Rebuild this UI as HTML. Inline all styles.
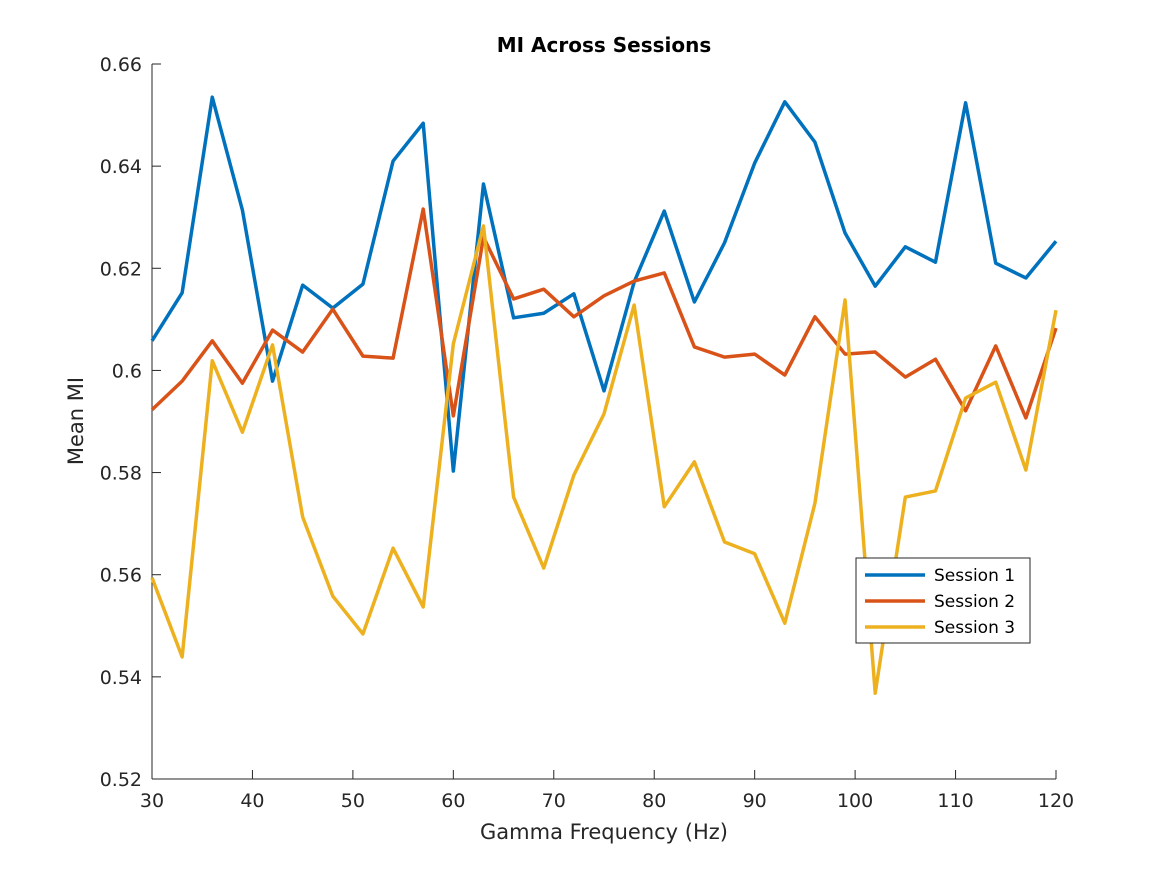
<!DOCTYPE html>
<html><head><meta charset="utf-8"><style>
body{margin:0;background:#fff;}
svg text{font-family:"DejaVu Sans","Liberation Sans",sans-serif;fill:#262626;}
</style></head><body>
<svg id="chart" width="1167" height="875" xmlns="http://www.w3.org/2000/svg">
<rect width="1167" height="875" fill="#fff"/>
<text x="604" y="52" text-anchor="middle" font-size="20" font-weight="bold" style="fill:#000">MI Across Sessions</text>
<g id="axes"></g>
<g id="lines"></g>
<text x="604" y="839" text-anchor="middle" font-size="21">Gamma Frequency (Hz)</text>
<text transform="translate(83,421) rotate(-90)" text-anchor="middle" font-size="21">Mean MI</text>
<g>
<rect x="856" y="558" width="174" height="85" fill="#fff" stroke="#262626" stroke-width="1"/>
<g id="legend-items"></g>
</g>
</svg>
<script>
const freqs=[30,33,36,39,42,45,48,51,54,57,60,63,66,69,72,75,78,81,84,87,90,93,96,99,102,105,108,111,114,117,120];
const session1=[0.6058,0.6152,0.6535,0.6314,0.5979,0.6167,0.6122,0.6169,0.6410,0.6484,0.5803,0.6365,0.6103,0.6112,0.6150,0.5960,0.6173,0.6312,0.6134,0.6250,0.6406,0.6526,0.6447,0.6269,0.6165,0.6242,0.6212,0.6524,0.6210,0.6181,0.6253];
const session2=[0.5923,0.5979,0.6058,0.5975,0.6079,0.6036,0.6120,0.6028,0.6024,0.6316,0.5911,0.6261,0.6140,0.6159,0.6105,0.6146,0.6175,0.6191,0.6046,0.6026,0.6032,0.5991,0.6105,0.6032,0.6036,0.5987,0.6022,0.5921,0.6048,0.5907,0.6083];
const session3=[0.5594,0.5439,0.6019,0.5879,0.6050,0.5713,0.5558,0.5484,0.5652,0.5537,0.6052,0.6283,0.5752,0.5613,0.5795,0.5915,0.6128,0.5733,0.5821,0.5664,0.5641,0.5505,0.5740,0.6138,0.5368,0.5752,0.5764,0.5946,0.5977,0.5805,0.6118];
const xTicks=[30,40,50,60,70,80,90,100,110,120];
const yTicks=[0.52,0.54,0.56,0.58,0.6,0.62,0.64,0.66];
const yTickLabels=["0.52","0.54","0.56","0.58","0.6","0.62","0.64","0.66"];
const seriesNames=["Session 1","Session 2","Session 3"];
const colors=["#0072BD","#D95319","#EDB120"];
const X0=152,X1=1056,Y0=779,Y1=64;
const xs=v=>X0+(v-30)/90*(X1-X0);
const ys=v=>Y0-(v-0.52)/0.14*(Y0-Y1);
const NS="http://www.w3.org/2000/svg";
function mk(t,a,p){const e=document.createElementNS(NS,t);for(const k in a)e.setAttribute(k,a[k]);p.appendChild(e);return e;}
const ax=document.getElementById('axes');
const xl=mk('line',{x1:X0,y1:Y0,x2:X1,y2:Y0,stroke:'#262626','stroke-width':1},ax);


const yl=mk('line',{x1:X0,y1:Y0,x2:X0,y2:Y1,stroke:'#262626','stroke-width':1},ax);


xTicks.forEach(t=>{const x=xs(t);
mk('line',{x1:x,y1:Y0,x2:x,y2:Y0-9,stroke:'#262626'},ax);
const tx=mk('text',{x:x,y:Y0+28,'text-anchor':'middle','font-size':'19'},ax);tx.textContent=t;

});
yTicks.forEach((t,i)=>{const y=ys(t);
mk('line',{x1:X0,y1:y,x2:X0+9,y2:y,stroke:'#262626'},ax);
const tx=mk('text',{x:X0-10,y:y+7,'text-anchor':'end','font-size':'19'},ax);tx.textContent=yTickLabels[i];

});
const lg=document.getElementById('lines');
[session1,session2,session3].forEach((s,i)=>{
const p=mk('polyline',{points:s.map((v,j)=>xs(freqs[j])+','+ys(v)).join(' '),fill:'none',stroke:colors[i],'stroke-width':3.5,'stroke-linejoin':'round'},lg);

});
const li=document.getElementById('legend-items');
seriesNames.forEach((n,i)=>{const y=575+i*26;
mk('line',{x1:865,y1:y,x2:925,y2:y,stroke:colors[i],'stroke-width':3.5},li);
const t=mk('text',{x:934,y:y+6,'font-size':'17',style:'fill:#000'},li);t.textContent=n;

});
</script>
</body></html>
